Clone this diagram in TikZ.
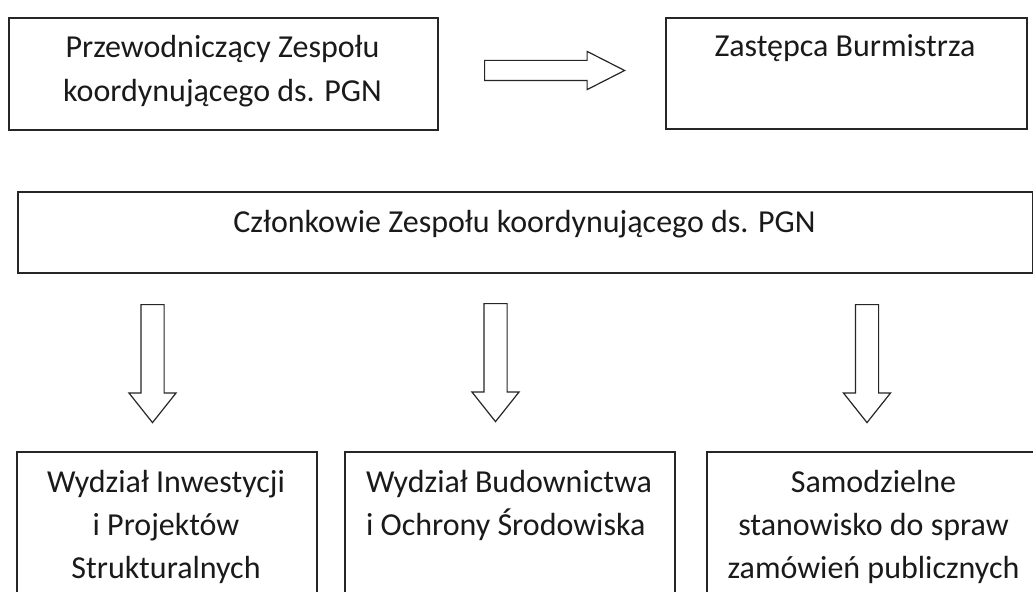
\documentclass[tikz,border=0pt]{standalone}
\usepackage{fontspec}
\setmainfont{Carlito}
\usetikzlibrary{shapes.arrows}
\definecolor{ink}{HTML}{1A1A1A}
\definecolor{edge}{HTML}{262626}
\tikzset{
  box/.style={draw=edge, line width=1.2pt, anchor=north west, inner sep=0pt},
  lbl/.style={anchor=base, align=center, inner sep=0pt, text=ink,
              font=\fontsize{24}{33}\selectfont},
  lblb/.style={lbl, font=\fontsize{24}{32.25}\selectfont},
  harrow/.style={single arrow, draw=edge, line width=0.9pt, anchor=tail,
              inner xsep=0pt, inner ysep=7.125pt, single arrow head extend=6.75pt,
              single arrow tip angle=54, minimum height=105pt},
  varrow/.style={single arrow, shape border rotate=270, draw=edge, line width=0.9pt,
              anchor=tail, inner ysep=0pt, inner xsep=8.25pt,
              single arrow head extend=9pt,
              single arrow tip angle=77, minimum height=88.5pt},
}
\begin{document}
\begin{tikzpicture}[x=0.75pt, y=-0.75pt]
\useasboundingbox (0,0) rectangle (1033,592);
\fill[white] (0,0) rectangle (1033,592);
\clip (0,0) rectangle (1033,592);
% boxes
\node[box, minimum width=321.75pt, minimum height=84pt] (b1) at (8,17) {};
\node[box, minimum width=270.75pt, minimum height=83.25pt] (b2) at (665,17) {};
\node[box, minimum width=761.25pt, minimum height=60.75pt] (b3) at (17,191) {};
\node[box, minimum width=225pt, minimum height=150pt] (b4) at (16,451) {};
\node[box, minimum width=247.5pt, minimum height=150pt] (b5) at (344,451) {};
\node[box, minimum width=251.25pt, minimum height=150pt] (b6) at (706,451) {};
% labels (anchor at baseline of the last line)
\node[lbl] (t1) at (222.5,102) {Przewodniczący Zespołu\\koordynującego ds. PGN};
\node[lbl] (t2) at (845,57) {Zastępca Burmistrza};
\node[lbl] (t3) at (524.5,232) {Członkowie Zespołu koordynującego ds. PGN};
\node[lblb] (t4) at (166,578) {Wydział Inwestycji\\i Projektów\\Strukturalnych};
\node[lblb, align=left] (t5) at (509,535) {Wydział Budownictwa\\i Ochrony Środowiska};
\node[lblb] (t6) at (873.5,578) {Samodzielne\\stanowisko do spraw\\zamówień publicznych};
% block arrows
\node[harrow] (a0) at (484,70.5) {};
\node[varrow] (a1) at (152.5,304) {};
\node[varrow] (a2) at (495.5,303) {};
\node[varrow] (a3) at (867,304) {};
\end{tikzpicture}
\end{document}
